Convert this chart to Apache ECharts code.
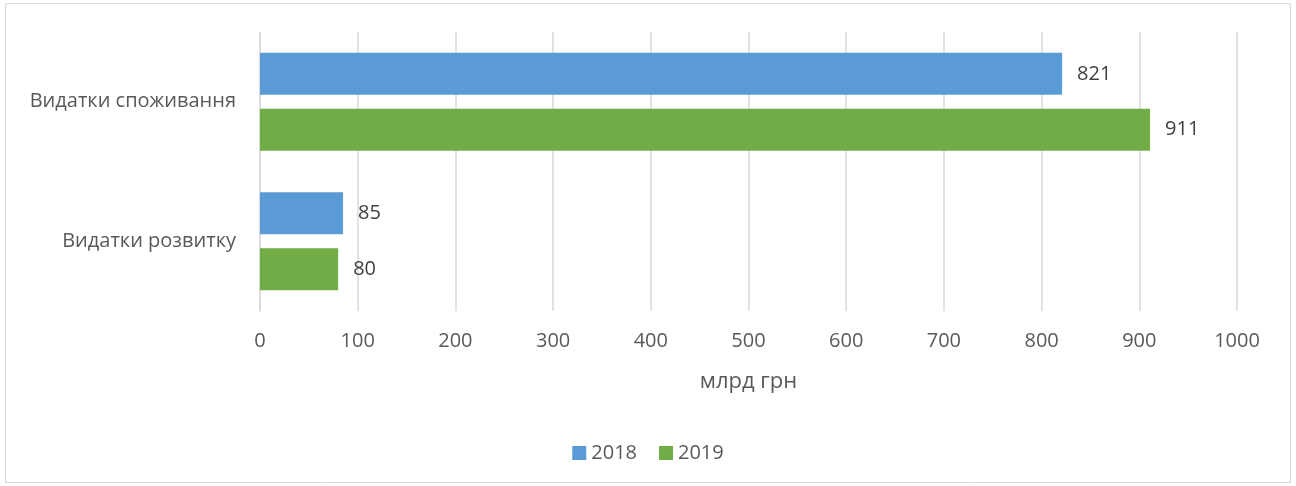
<!DOCTYPE html>
<html>
<head>
<meta charset="utf-8">
<script src="https://cdn.jsdelivr.net/npm/echarts@6/dist/echarts.min.js"></script>
<style>
body { margin: 0; background: #fff; }
#chart { width: 1296px; height: 486px; }
</style>
</head>
<body>
<div id="chart"></div>
<script>
// категорії знизу вгору (як у Excel)
const categories = ['Видатки розвитку', 'Видатки споживання'];
const seriesNames = ['2018', '2019'];
const values2018 = [85, 821];
const values2019 = [80, 911];
const xTicks = { min: 0, max: 1000, interval: 100 };

const font = '"Open Sans", "Liberation Sans", sans-serif';
const myChart = echarts.init(document.getElementById('chart'));
myChart.setOption({
  animation: false,
  textStyle: { fontFamily: font },
  graphic: [{
    type: 'rect',
    shape: { x: 5.5, y: 3.5, width: 1285, height: 479 },
    style: { fill: 'none', stroke: '#d9d9d9', lineWidth: 1 }
  }],
  grid: { left: 260, right: 59, top: 32, bottom: 175 },
  legend: {
    bottom: 18,
    left: 'center',
    itemWidth: 14,
    itemHeight: 14,
    itemGap: 22,
    icon: 'rect',
    textStyle: { fontSize: 20, color: '#595959', fontFamily: font },
    data: seriesNames
  },
  xAxis: {
    type: 'value',
    min: xTicks.min,
    max: xTicks.max,
    interval: xTicks.interval,
    name: 'млрд грн',
    nameLocation: 'middle',
    nameGap: 60,
    nameTextStyle: { fontSize: 22, color: '#595959' },
    axisLine: { show: false },
    axisTick: { show: false },
    axisLabel: { fontSize: 20, color: '#595959', margin: 20, formatter: v => String(v) },
    splitLine: { lineStyle: { color: '#d9d9d9', width: 1.5 } }
  },
  yAxis: {
    type: 'category',
    data: categories,
    axisLine: { show: true, lineStyle: { color: '#d9d9d9', width: 1.5 } },
    axisTick: { show: false },
    axisLabel: { fontSize: 20, color: '#595959', margin: 24 }
  },
  series: [{
    name: seriesNames[0],
    type: 'bar',
    data: values2018,
    barWidth: 42,
    barGap: '33%',
    itemStyle: { color: '#5b9bd5' },
    label: { show: true, position: 'right', distance: 15, fontSize: 20, color: '#404040' }
  }, {
    name: seriesNames[1],
    type: 'bar',
    data: values2019,
    barWidth: 42,
    barGap: '33%',
    itemStyle: { color: '#70ad47' },
    label: { show: true, position: 'right', distance: 15, fontSize: 20, color: '#404040' }
  }]
});
</script>
</body>
</html>
